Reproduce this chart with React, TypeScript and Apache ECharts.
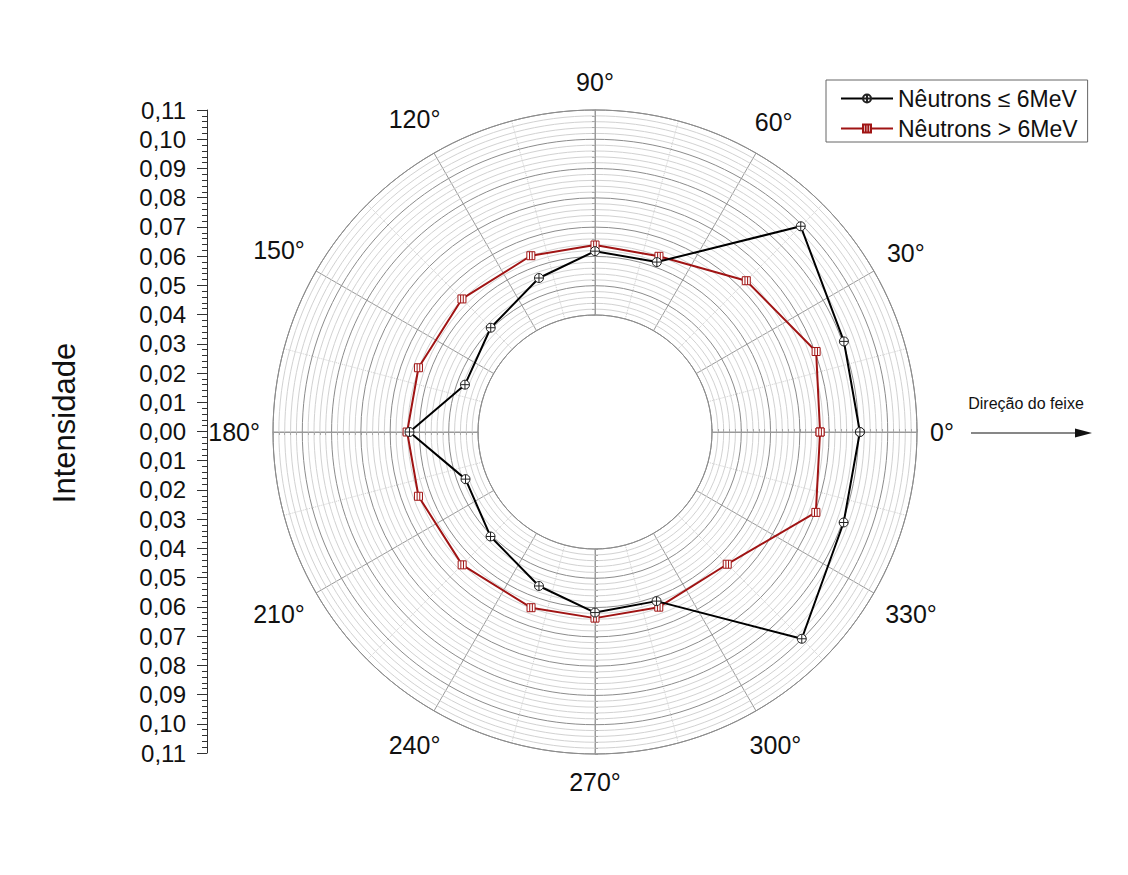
import React, { useEffect, useRef } from 'react';
import * as echarts from 'echarts';

// ---- data ----
const angles = [0, 20, 45, 70, 90, 110, 135, 160, 180, 200, 225, 250, 270, 290, 315, 340];
const lowEnergy = [0.0905, 0.0905, 0.0994, 0.0618, 0.0618, 0.0560, 0.0504, 0.0473, 0.0634, 0.0471, 0.0505, 0.0560, 0.0617, 0.0615, 0.0999, 0.0904];
const highEnergy = [0.0769, 0.0804, 0.0731, 0.0639, 0.0639, 0.0641, 0.0643, 0.0642, 0.0642, 0.0642, 0.0642, 0.0639, 0.0636, 0.0637, 0.0639, 0.0803];
const angleTicks = [0, 30, 60, 90, 120, 150, 180, 210, 240, 270, 300, 330];
const seriesNames = ['Nêutrons ≤ 6MeV', 'Nêutrons > 6MeV'];
const yAxisTitle = 'Intensidade';
const beamLabel = 'Direção do feixe';
const radialMin = 0.04;
const radialMax = 0.11;
const radialStep = 0.01;

const FONT = 'Liberation Sans, Arial, sans-serif';
const CX = 595;
const CY = 432;
const R0 = 117;
const R1 = 322;

const blackSymbol =
  'path://M0,-10 A10,10 0 1,1 0,10 A10,10 0 1,1 0,-10 Z M-10,0 L10,0 M0,-10 L0,10';
const redSymbol =
  'path://M-10,-10 L10,-10 L10,10 L-10,10 Z M-3.3,-10 L-3.3,10 M3.3,-10 L3.3,10';

function closedData(vals: number[]) {
  const d = angles.map((a, i) => [vals[i], a]);
  d.push([vals[0], 360]);
  return d;
}

export default function App() {
  const ref = useRef<HTMLDivElement>(null);

  useEffect(() => {
    if (!ref.current) return;
    const chart = echarts.init(ref.current, null, { renderer: 'svg' });

    const angleLabelFont = 25;
    const angleLabels = angleTicks.map((a) => {
      const t = (a * Math.PI) / 180;
      const txt = a + '°';
      const w = (String(a).length * 0.556 + 0.4) * angleLabelFont;
      const R = 335 + Math.abs(Math.cos(t)) * (w / 2) + Math.abs(Math.sin(t)) * 15;
      return {
        type: 'text',
        x: CX + R * Math.cos(t),
        y: CY - R * Math.sin(t),
        silent: true,
        style: {
          text: txt,
          fontSize: angleLabelFont,
          fontFamily: FONT,
          fill: '#111',
          align: 'center',
          verticalAlign: 'middle',
        },
      };
    });

    const polars = [0, 90, 180, 270].map(() => ({ center: [CX, CY], radius: [R0, R1] }));

    const radiusBase = (i: number) => ({
      polarIndex: i,
      type: 'value',
      min: radialMin,
      max: radialMax,
      interval: radialStep,
      axisLine: { show: true, lineStyle: { color: '#999', width: 1 } },
      axisTick: { show: true, length: 3, lineStyle: { color: '#999' } },
      minorTick: { show: true, splitNumber: 5, length: 3, lineStyle: { color: '#aaa' } },
      axisLabel: { show: false },
      splitLine: { show: i === 0, lineStyle: { color: '#8c8c8c', width: 1 } },
      minorSplitLine: { show: i === 0, lineStyle: { color: '#d2d2d2', width: 1 } },
      z: i === 0 ? 1 : 2,
    });

    const option: any = {
      animation: false,
      backgroundColor: '#fff',
      textStyle: { fontFamily: FONT },
      polar: polars,
      angleAxis: [0, 90, 180, 270].map((sa, i) => ({
        polarIndex: i,
        type: 'value',
        min: 0,
        max: 360,
        interval: 30,
        startAngle: sa,
        clockwise: false,
        show: i === 0,
        axisLine: { show: true, lineStyle: { color: '#8c8c8c', width: 1 } },
        axisTick: { show: false },
        axisLabel: { show: false },
        splitLine: { show: true, lineStyle: { color: '#9a9a9a', width: 1 } },
        minorTick: { show: false, splitNumber: 2 },
        minorSplitLine: { show: true, lineStyle: { color: '#cfcfcf', width: 1, type: 'dotted' } },
      })),
      radiusAxis: [0, 1, 2, 3].map((i) => radiusBase(i)),
      grid: { left: 207, top: 110, width: 1, height: 643 },
      xAxis: { type: 'value', show: false },
      yAxis: {
        type: 'value',
        min: -0.11,
        max: 0.11,
        interval: 0.01,
        axisLine: { show: true, lineStyle: { color: '#333', width: 1 } },
        axisTick: { show: true, length: 10, lineStyle: { color: '#333' } },
        minorTick: { show: true, splitNumber: 5, length: 5, lineStyle: { color: '#333' } },
        splitLine: { show: false },
        axisLabel: {
          margin: 21,
          fontSize: 24,
          fontFamily: FONT,
          color: '#111',
          formatter: (v: number) => Math.abs(v).toFixed(2).replace('.', ','),
        },
      },
      legend: {
        orient: 'vertical',
        left: 826,
        top: 80,
        itemWidth: 52,
        itemHeight: 10,
        itemGap: 7,
        padding: [7, 10, 2, 14],
        borderColor: '#666',
        borderWidth: 1,
        textStyle: { fontSize: 23, lineHeight: 23, fontFamily: FONT, color: '#111' },
        data: seriesNames,
      },
      series: [
        {
          name: seriesNames[0],
          type: 'line',
          coordinateSystem: 'polar',
          polarIndex: 0,
          data: closedData(lowEnergy),
          symbol: blackSymbol,
          symbolSize: 9,
          itemStyle: { color: '#fff', borderColor: '#222', borderWidth: 1 },
          lineStyle: { color: '#000', width: 2 },
          z: 5,
        },
        {
          name: seriesNames[1],
          type: 'line',
          coordinateSystem: 'polar',
          polarIndex: 0,
          data: closedData(highEnergy),
          symbol: redSymbol,
          symbolSize: 8,
          itemStyle: { color: '#fff', borderColor: '#a01414', borderWidth: 1 },
          lineStyle: { color: '#a01414', width: 2 },
          z: 4,
        },
      ],
      graphic: [
        ...angleLabels,
        {
          type: 'text',
          x: 64,
          y: 423,
          rotation: Math.PI / 2,
          silent: true,
          style: {
            text: yAxisTitle,
            fontSize: 31,
            fontFamily: FONT,
            fill: '#111',
            align: 'center',
            verticalAlign: 'middle',
          },
        },
        {
          type: 'text',
          x: 1026,
          y: 403,
          silent: true,
          style: {
            text: beamLabel,
            fontSize: 16,
            fontFamily: FONT,
            fill: '#111',
            align: 'center',
            verticalAlign: 'middle',
          },
        },
        {
          type: 'line',
          silent: true,
          shape: { x1: 971, y1: 433, x2: 1080, y2: 433 },
          style: { stroke: '#111', lineWidth: 1.2 },
        },
        {
          type: 'polygon',
          silent: true,
          shape: { points: [[1075, 428.5], [1092, 433], [1075, 437.5]] },
          style: { fill: '#111' },
        },
      ],
    };

    chart.setOption(option);
    return () => chart.dispose();
  }, []);

  return (
    <div
      ref={ref}
      style={{ position: 'fixed', left: 0, top: 0, width: 1128, height: 875, background: '#fff' }}
    />
  );
}
